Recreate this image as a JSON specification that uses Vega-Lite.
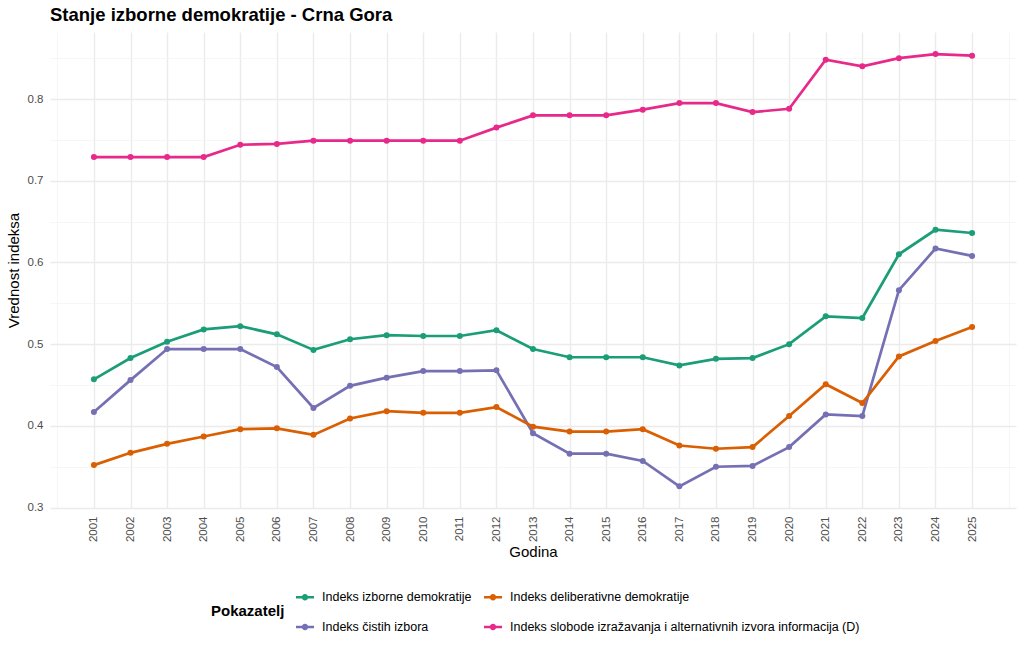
{
  "$schema": "https://vega.github.io/schema/vega-lite/v6.json",
  "width": 966,
  "height": 476,
  "autosize": {"type": "none"},
  "padding": {"left": 50, "top": 32, "right": 8, "bottom": 144},
  "background": "white",
  "config": {
    "font": "Liberation Sans",
    "view": {"stroke": null}
  },
  "title": {
    "text": "Stanje izborne demokratije - Crna Gora",
    "anchor": "start",
    "frame": "group",
    "font": "Liberation Sans",
    "fontSize": 18.5,
    "fontWeight": "bold",
    "color": "black",
    "offset": 8
  },
  "data": {
    "values": [
      {"godina": 2001, "pokazatelj": "Indeks izborne demokratije", "vrednost": 0.457},
      {"godina": 2002, "pokazatelj": "Indeks izborne demokratije", "vrednost": 0.483},
      {"godina": 2003, "pokazatelj": "Indeks izborne demokratije", "vrednost": 0.503},
      {"godina": 2004, "pokazatelj": "Indeks izborne demokratije", "vrednost": 0.518},
      {"godina": 2005, "pokazatelj": "Indeks izborne demokratije", "vrednost": 0.522},
      {"godina": 2006, "pokazatelj": "Indeks izborne demokratije", "vrednost": 0.512},
      {"godina": 2007, "pokazatelj": "Indeks izborne demokratije", "vrednost": 0.493},
      {"godina": 2008, "pokazatelj": "Indeks izborne demokratije", "vrednost": 0.506},
      {"godina": 2009, "pokazatelj": "Indeks izborne demokratije", "vrednost": 0.511},
      {"godina": 2010, "pokazatelj": "Indeks izborne demokratije", "vrednost": 0.510},
      {"godina": 2011, "pokazatelj": "Indeks izborne demokratije", "vrednost": 0.510},
      {"godina": 2012, "pokazatelj": "Indeks izborne demokratije", "vrednost": 0.517},
      {"godina": 2013, "pokazatelj": "Indeks izborne demokratije", "vrednost": 0.494},
      {"godina": 2014, "pokazatelj": "Indeks izborne demokratije", "vrednost": 0.484},
      {"godina": 2015, "pokazatelj": "Indeks izborne demokratije", "vrednost": 0.484},
      {"godina": 2016, "pokazatelj": "Indeks izborne demokratije", "vrednost": 0.484},
      {"godina": 2017, "pokazatelj": "Indeks izborne demokratije", "vrednost": 0.474},
      {"godina": 2018, "pokazatelj": "Indeks izborne demokratije", "vrednost": 0.482},
      {"godina": 2019, "pokazatelj": "Indeks izborne demokratije", "vrednost": 0.483},
      {"godina": 2020, "pokazatelj": "Indeks izborne demokratije", "vrednost": 0.500},
      {"godina": 2021, "pokazatelj": "Indeks izborne demokratije", "vrednost": 0.534},
      {"godina": 2022, "pokazatelj": "Indeks izborne demokratije", "vrednost": 0.532},
      {"godina": 2023, "pokazatelj": "Indeks izborne demokratije", "vrednost": 0.610},
      {"godina": 2024, "pokazatelj": "Indeks izborne demokratije", "vrednost": 0.640},
      {"godina": 2025, "pokazatelj": "Indeks izborne demokratije", "vrednost": 0.636},
      {"godina": 2001, "pokazatelj": "Indeks čistih izbora", "vrednost": 0.417},
      {"godina": 2002, "pokazatelj": "Indeks čistih izbora", "vrednost": 0.456},
      {"godina": 2003, "pokazatelj": "Indeks čistih izbora", "vrednost": 0.494},
      {"godina": 2004, "pokazatelj": "Indeks čistih izbora", "vrednost": 0.494},
      {"godina": 2005, "pokazatelj": "Indeks čistih izbora", "vrednost": 0.494},
      {"godina": 2006, "pokazatelj": "Indeks čistih izbora", "vrednost": 0.472},
      {"godina": 2007, "pokazatelj": "Indeks čistih izbora", "vrednost": 0.422},
      {"godina": 2008, "pokazatelj": "Indeks čistih izbora", "vrednost": 0.449},
      {"godina": 2009, "pokazatelj": "Indeks čistih izbora", "vrednost": 0.459},
      {"godina": 2010, "pokazatelj": "Indeks čistih izbora", "vrednost": 0.467},
      {"godina": 2011, "pokazatelj": "Indeks čistih izbora", "vrednost": 0.467},
      {"godina": 2012, "pokazatelj": "Indeks čistih izbora", "vrednost": 0.468},
      {"godina": 2013, "pokazatelj": "Indeks čistih izbora", "vrednost": 0.391},
      {"godina": 2014, "pokazatelj": "Indeks čistih izbora", "vrednost": 0.366},
      {"godina": 2015, "pokazatelj": "Indeks čistih izbora", "vrednost": 0.366},
      {"godina": 2016, "pokazatelj": "Indeks čistih izbora", "vrednost": 0.357},
      {"godina": 2017, "pokazatelj": "Indeks čistih izbora", "vrednost": 0.326},
      {"godina": 2018, "pokazatelj": "Indeks čistih izbora", "vrednost": 0.350},
      {"godina": 2019, "pokazatelj": "Indeks čistih izbora", "vrednost": 0.351},
      {"godina": 2020, "pokazatelj": "Indeks čistih izbora", "vrednost": 0.374},
      {"godina": 2021, "pokazatelj": "Indeks čistih izbora", "vrednost": 0.414},
      {"godina": 2022, "pokazatelj": "Indeks čistih izbora", "vrednost": 0.412},
      {"godina": 2023, "pokazatelj": "Indeks čistih izbora", "vrednost": 0.566},
      {"godina": 2024, "pokazatelj": "Indeks čistih izbora", "vrednost": 0.617},
      {"godina": 2025, "pokazatelj": "Indeks čistih izbora", "vrednost": 0.608},
      {"godina": 2001, "pokazatelj": "Indeks deliberativne demokratije", "vrednost": 0.352},
      {"godina": 2002, "pokazatelj": "Indeks deliberativne demokratije", "vrednost": 0.367},
      {"godina": 2003, "pokazatelj": "Indeks deliberativne demokratije", "vrednost": 0.378},
      {"godina": 2004, "pokazatelj": "Indeks deliberativne demokratije", "vrednost": 0.387},
      {"godina": 2005, "pokazatelj": "Indeks deliberativne demokratije", "vrednost": 0.396},
      {"godina": 2006, "pokazatelj": "Indeks deliberativne demokratije", "vrednost": 0.397},
      {"godina": 2007, "pokazatelj": "Indeks deliberativne demokratije", "vrednost": 0.389},
      {"godina": 2008, "pokazatelj": "Indeks deliberativne demokratije", "vrednost": 0.409},
      {"godina": 2009, "pokazatelj": "Indeks deliberativne demokratije", "vrednost": 0.418},
      {"godina": 2010, "pokazatelj": "Indeks deliberativne demokratije", "vrednost": 0.416},
      {"godina": 2011, "pokazatelj": "Indeks deliberativne demokratije", "vrednost": 0.416},
      {"godina": 2012, "pokazatelj": "Indeks deliberativne demokratije", "vrednost": 0.423},
      {"godina": 2013, "pokazatelj": "Indeks deliberativne demokratije", "vrednost": 0.399},
      {"godina": 2014, "pokazatelj": "Indeks deliberativne demokratije", "vrednost": 0.393},
      {"godina": 2015, "pokazatelj": "Indeks deliberativne demokratije", "vrednost": 0.393},
      {"godina": 2016, "pokazatelj": "Indeks deliberativne demokratije", "vrednost": 0.396},
      {"godina": 2017, "pokazatelj": "Indeks deliberativne demokratije", "vrednost": 0.376},
      {"godina": 2018, "pokazatelj": "Indeks deliberativne demokratije", "vrednost": 0.372},
      {"godina": 2019, "pokazatelj": "Indeks deliberativne demokratije", "vrednost": 0.374},
      {"godina": 2020, "pokazatelj": "Indeks deliberativne demokratije", "vrednost": 0.412},
      {"godina": 2021, "pokazatelj": "Indeks deliberativne demokratije", "vrednost": 0.451},
      {"godina": 2022, "pokazatelj": "Indeks deliberativne demokratije", "vrednost": 0.428},
      {"godina": 2023, "pokazatelj": "Indeks deliberativne demokratije", "vrednost": 0.485},
      {"godina": 2024, "pokazatelj": "Indeks deliberativne demokratije", "vrednost": 0.504},
      {"godina": 2025, "pokazatelj": "Indeks deliberativne demokratije", "vrednost": 0.521},
      {"godina": 2001, "pokazatelj": "Indeks slobode izražavanja i alternativnih izvora informacija (D)", "vrednost": 0.729},
      {"godina": 2002, "pokazatelj": "Indeks slobode izražavanja i alternativnih izvora informacija (D)", "vrednost": 0.729},
      {"godina": 2003, "pokazatelj": "Indeks slobode izražavanja i alternativnih izvora informacija (D)", "vrednost": 0.729},
      {"godina": 2004, "pokazatelj": "Indeks slobode izražavanja i alternativnih izvora informacija (D)", "vrednost": 0.729},
      {"godina": 2005, "pokazatelj": "Indeks slobode izražavanja i alternativnih izvora informacija (D)", "vrednost": 0.744},
      {"godina": 2006, "pokazatelj": "Indeks slobode izražavanja i alternativnih izvora informacija (D)", "vrednost": 0.745},
      {"godina": 2007, "pokazatelj": "Indeks slobode izražavanja i alternativnih izvora informacija (D)", "vrednost": 0.749},
      {"godina": 2008, "pokazatelj": "Indeks slobode izražavanja i alternativnih izvora informacija (D)", "vrednost": 0.749},
      {"godina": 2009, "pokazatelj": "Indeks slobode izražavanja i alternativnih izvora informacija (D)", "vrednost": 0.749},
      {"godina": 2010, "pokazatelj": "Indeks slobode izražavanja i alternativnih izvora informacija (D)", "vrednost": 0.749},
      {"godina": 2011, "pokazatelj": "Indeks slobode izražavanja i alternativnih izvora informacija (D)", "vrednost": 0.749},
      {"godina": 2012, "pokazatelj": "Indeks slobode izražavanja i alternativnih izvora informacija (D)", "vrednost": 0.765},
      {"godina": 2013, "pokazatelj": "Indeks slobode izražavanja i alternativnih izvora informacija (D)", "vrednost": 0.780},
      {"godina": 2014, "pokazatelj": "Indeks slobode izražavanja i alternativnih izvora informacija (D)", "vrednost": 0.780},
      {"godina": 2015, "pokazatelj": "Indeks slobode izražavanja i alternativnih izvora informacija (D)", "vrednost": 0.780},
      {"godina": 2016, "pokazatelj": "Indeks slobode izražavanja i alternativnih izvora informacija (D)", "vrednost": 0.787},
      {"godina": 2017, "pokazatelj": "Indeks slobode izražavanja i alternativnih izvora informacija (D)", "vrednost": 0.795},
      {"godina": 2018, "pokazatelj": "Indeks slobode izražavanja i alternativnih izvora informacija (D)", "vrednost": 0.795},
      {"godina": 2019, "pokazatelj": "Indeks slobode izražavanja i alternativnih izvora informacija (D)", "vrednost": 0.784},
      {"godina": 2020, "pokazatelj": "Indeks slobode izražavanja i alternativnih izvora informacija (D)", "vrednost": 0.788},
      {"godina": 2021, "pokazatelj": "Indeks slobode izražavanja i alternativnih izvora informacija (D)", "vrednost": 0.848},
      {"godina": 2022, "pokazatelj": "Indeks slobode izražavanja i alternativnih izvora informacija (D)", "vrednost": 0.840},
      {"godina": 2023, "pokazatelj": "Indeks slobode izražavanja i alternativnih izvora informacija (D)", "vrednost": 0.850},
      {"godina": 2024, "pokazatelj": "Indeks slobode izražavanja i alternativnih izvora informacija (D)", "vrednost": 0.855},
      {"godina": 2025, "pokazatelj": "Indeks slobode izražavanja i alternativnih izvora informacija (D)", "vrednost": 0.853}
    ]
  },
  "mark": {
    "type": "line",
    "strokeWidth": 2.7,
    "point": {"filled": true, "size": 36}
  },
  "encoding": {
    "x": {
      "field": "godina",
      "type": "quantitative",
      "title": "Godina",
      "scale": {"domain": [1999.8, 2026.2], "nice": false, "zero": false},
      "axis": {
        "values": [2000, 2000.5, 2001, 2001.5, 2002, 2002.5, 2003, 2003.5, 2004, 2004.5, 2005, 2005.5, 2006, 2006.5, 2007, 2007.5, 2008, 2008.5, 2009, 2009.5, 2010, 2010.5, 2011, 2011.5, 2012, 2012.5, 2013, 2013.5, 2014, 2014.5, 2015, 2015.5, 2016, 2016.5, 2017, 2017.5, 2018, 2018.5, 2019, 2019.5, 2020, 2020.5, 2021, 2021.5, 2022, 2022.5, 2023, 2023.5, 2024, 2024.5, 2025, 2025.5, 2026],
        "format": "d",
        "labelExpr": "(datum.value >= 2001 && datum.value <= 2025 && datum.value % 1 === 0) ? datum.label : ''",
        "labelAngle": -90,
        "labelAlign": "right",
        "labelBaseline": "middle",
        "labelFontSize": 11.5,
        "labelColor": "#4d4d4d",
        "labelPadding": 8,
        "labelOverlap": false,
        "labelBound": false,
        "labelFlush": false,
        "ticks": false,
        "domain": false,
        "grid": true,
        "gridColor": {"condition": {"test": "datum.value >= 2001 && datum.value <= 2025 && datum.value % 1 === 0", "value": "#ebebeb"}, "value": "#f4f4f4"},
        "gridWidth": {"condition": {"test": "datum.value >= 2001 && datum.value <= 2025 && datum.value % 1 === 0", "value": 1.4}, "value": 0.8},
        "titleFontSize": 15,
        "titleFontWeight": "normal",
        "titleColor": "black",
        "titlePadding": 3
      }
    },
    "y": {
      "field": "vrednost",
      "type": "quantitative",
      "title": "Vrednost indeksa",
      "scale": {"domain": [0.2995, 0.882], "nice": false, "zero": false},
      "axis": {
        "values": [0.3, 0.35, 0.4, 0.45, 0.5, 0.55, 0.6, 0.65, 0.7, 0.75, 0.8, 0.85],
        "format": ".1f",
        "labelExpr": "abs(datum.value * 10 - round(datum.value * 10)) < 0.001 ? datum.label : ''",
        "labelFontSize": 11.5,
        "labelColor": "#4d4d4d",
        "labelPadding": 7,
        "ticks": false,
        "domain": false,
        "grid": true,
        "gridColor": {"condition": {"test": "abs(datum.value * 10 - round(datum.value * 10)) < 0.001", "value": "#ebebeb"}, "value": "#f4f4f4"},
        "gridWidth": {"condition": {"test": "abs(datum.value * 10 - round(datum.value * 10)) < 0.001", "value": 1.4}, "value": 0.8},
        "titleFontSize": 15,
        "titleFontWeight": "normal",
        "titleColor": "black",
        "titlePadding": 6
      }
    },
    "color": {
      "field": "pokazatelj",
      "type": "nominal",
      "scale": {
        "domain": ["Indeks izborne demokratije", "Indeks deliberativne demokratije", "Indeks čistih izbora", "Indeks slobode izražavanja i alternativnih izvora informacija (D)"],
        "range": ["#1b9e77", "#d95f02", "#7570b3", "#e7298a"]
      },
      "legend": {
        "title": "Pokazatelj",
        "orient": "none",
        "legendX": 161,
        "legendY": 556,
        "direction": "horizontal",
        "columns": 2,
        "titleOrient": "left",
        "titleAnchor": "middle",
        "titleFontSize": 15,
        "titleFontWeight": "bold",
        "titleColor": "black",
        "titlePadding": 11,
        "labelFontSize": 12.5,
        "labelColor": "black",
        "labelOffset": 8,
        "labelLimit": 600,
        "columnPadding": 12,
        "rowPadding": 14,
        "symbolType": "M-1,-0.13L1,-0.13L1,0.13L-1,0.13Z M-0.36,0A0.36,0.36 0 1,1 0.36,0A0.36,0.36 0 1,1 -0.36,0Z",
        "symbolSize": 324,
        "symbolStrokeWidth": 0,
        "encode": {
          "symbols": {"update": {"fill": {"scale": "color", "field": "value"}, "fillOpacity": {"value": 1}}}
        }
      }
    }
  }
}
